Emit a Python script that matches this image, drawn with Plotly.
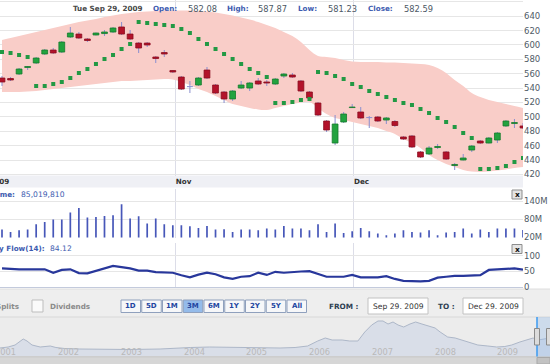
import plotly.graph_objects as go

W, H = 550, 364
FONT = "DejaVu Sans"

# ---------------- data ----------------
opens = [554.0, 553.3, 559.6, 568.6, 574.9, 587.4, 592.9, 590.1, 611.0, 615.1,
         608.2, 613.8, 615.8, 617.9, 624.9, 615.1, 602.6, 602.6, 583.2, 589.4,
         564.4, 555.4, 542.1, 544.3, 565.1, 544.3, 534.6, 524.9, 540.1, 540.1,
         549.9, 548.5, 545.7, 556.8, 558.2, 549.9, 534.6, 519.3, 494.3, 463.7,
         492.9, 513.0, 506.8, 499.1, 499.9, 495.7, 493.6, 472.1, 473.5, 451.3,
         448.5, 457.5, 451.3, 432.5, 440.1, 454.0, 466.5, 463.7, 467.9, 487.4,
         490.8, 487.4]
highs = [556.8, 555.4, 567.9, 570.7, 583.2, 594.3, 595.7, 605.4, 624.9, 617.9,
         609.6, 617.2, 620.7, 624.9, 631.8, 620.7, 604.0, 604.0, 584.6, 592.9,
         565.1, 556.8, 549.9, 555.4, 569.3, 545.7, 536.0, 537.4, 549.9, 548.5,
         554.0, 551.3, 554.0, 561.0, 561.0, 551.3, 536.0, 520.7, 495.7, 502.6,
         506.8, 517.9, 513.7, 501.2, 501.2, 499.9, 495.7, 473.5, 474.9, 452.6,
         459.6, 462.4, 452.6, 436.0, 448.5, 461.0, 467.9, 472.1, 479.0, 495.7,
         497.1, 491.5]
lows = [542.9, 549.9, 558.2, 565.1, 573.5, 586.0, 587.4, 588.8, 609.6, 608.2,
        604.0, 613.1, 612.4, 616.5, 613.8, 606.8, 588.8, 597.1, 574.9, 583.2,
        561.0, 537.4, 533.2, 542.9, 552.6, 531.8, 519.3, 522.1, 538.7, 536.0,
        544.3, 542.9, 544.3, 554.0, 554.0, 534.6, 523.5, 501.2, 479.0, 461.0,
        491.5, 512.4, 497.1, 484.6, 492.9, 490.1, 486.0, 467.9, 456.8, 442.9,
        447.1, 455.4, 440.1, 426.3, 439.4, 451.3, 462.4, 463.0, 463.7, 486.0,
        484.6, 483.2]
closes = [548.5, 551.3, 566.5, 570.0, 581.8, 592.9, 588.8, 604.0, 616.5, 609.6,
          606.1, 616.5, 617.9, 623.5, 615.1, 608.2, 595.7, 599.9, 581.1, 587.4,
          562.4, 538.7, 542.1, 554.0, 554.0, 533.2, 524.9, 536.0, 544.3, 547.1,
          545.7, 547.1, 552.6, 559.6, 555.4, 536.0, 526.3, 502.6, 481.8, 490.1,
          504.0, 513.7, 498.5, 499.1, 494.3, 498.5, 488.1, 469.3, 458.2, 444.3,
          456.8, 458.9, 441.5, 433.9, 442.9, 459.6, 463.7, 470.7, 477.6, 494.3,
          492.2, 484.6]
sar = [590.1, 588.8, 586.0, 583.2, 542.9, 542.9, 545.7, 548.5, 554.0, 561.0,
       566.5, 573.5, 580.4, 586.0, 594.3, 601.3, 631.8, 630.4, 629.0, 627.6,
       626.3, 622.1, 616.5, 608.2, 601.3, 594.3, 587.4, 580.4, 573.5, 566.5,
       561.0, 555.4, 519.3, 519.3, 520.7, 523.5, 524.9, 562.4, 561.0, 556.8,
       552.6, 545.7, 541.5, 536.0, 531.8, 527.6, 523.5, 519.3, 516.5, 511.0,
       505.4, 498.5, 492.9, 486.0, 477.6, 470.7, 427.6, 427.6, 429.0, 431.8,
       437.4, 442.9]
bb_upper = [606.8, 609.6, 612.4, 615.1, 617.9, 620.7, 623.5, 626.3, 629.0, 631.8,
            633.9, 636.0, 638.8, 640.8, 642.9, 644.3, 645.7, 646.4, 647.1, 647.8,
            647.8, 647.8, 647.8, 647.1, 646.4, 645.0, 642.9, 640.8, 638.1, 635.3,
            631.8, 627.6, 623.5, 617.9, 612.4, 604.0, 592.9, 584.6, 583.2, 581.8,
            579.0, 576.9, 576.3, 576.3, 576.3, 575.6, 575.6, 574.9, 574.2, 573.5,
            572.1, 567.9, 561.0, 551.3, 542.9, 533.2, 527.6, 523.5, 520.7, 517.9,
            515.1, 512.4]
bb_lower = [534.6, 534.6, 534.6, 535.3, 536.0, 537.4, 538.7, 540.1, 541.5, 542.9,
            544.3, 545.7, 547.1, 548.5, 549.9, 549.9, 550.6, 551.3, 551.9, 552.6,
            551.9, 548.5, 544.3, 538.7, 534.6, 529.0, 523.5, 517.9, 515.1, 512.4,
            510.3, 509.6, 512.4, 515.1, 517.9, 520.0, 520.7, 512.4, 504.0, 498.5,
            495.7, 492.9, 490.1, 487.4, 484.6, 480.4, 476.3, 469.3, 463.7, 456.8,
            447.1, 440.1, 434.6, 430.4, 426.3, 424.2, 423.5, 424.2, 425.6, 427.0,
            429.0, 430.4]
volume_m = [46.7, 38.7, 44.3, 46.7, 64.3, 72.0, 80.0, 80.0, 103.3, 118.7,
            86.7, 88.7, 92.0, 94.3, 131.0, 83.3, 91.0, 66.7, 83.3, 64.3,
            61.0, 61.0, 57.7, 52.0, 58.7, 46.7, 47.7, 38.7, 46.7, 46.7,
            44.3, 50.0, 46.7, 58.7, 50.0, 50.0, 44.3, 64.3, 38.7, 66.7,
            35.3, 41.0, 52.0, 41.0, 33.3, 27.7, 33.3, 44.3, 38.7, 36.7,
            44.3, 27.7, 36.7, 38.7, 50.0, 33.3, 46.7, 38.7, 50.0, 50.0,
            50.0, 45.0]
mfi = [60, 58, 57, 57, 57, 57, 46, 55, 57, 45, 44, 52, 60, 68, 64, 60, 53, 53, 48, 46,
       46, 38, 31, 40, 46, 41, 31, 26, 33, 35, 46, 39, 49, 46, 49, 50, 51, 42, 33, 33,
       33, 39, 31, 31, 31, 35, 26, 20, 18, 18, 20, 30, 33, 36, 36, 38, 38, 55, 57, 58,
       60, 56]
month_tick_pos = [20.34, 41.21]
month_tick_text = ["Nov", "Dec"]
first_month_label = "Oct 2009"
price_ticks = [420, 440, 460, 480, 500, 520, 540, 560, 580, 600, 620, 640, 660]
volume_ticks = [20, 80, 140]
volume_tick_text = ["20M", "80M", "140M"]
mfi_ticks = [0, 50, 100]

nav_years = [2001.24, 2001.37, 2001.48, 2001.56, 2001.61, 2001.67, 2001.75, 2001.88, 2001.96, 2002.04,
             2002.13, 2002.27, 2002.51, 2002.83, 2003.31, 2003.79, 2004.03, 2004.27, 2004.58, 2005.06,
             2005.38, 2005.70, 2005.94, 2006.14, 2006.30, 2006.42, 2006.53, 2006.69, 2006.81, 2006.94,
             2007.05, 2007.16, 2007.26, 2007.34, 2007.42, 2007.50, 2007.58, 2007.67, 2007.77, 2007.86,
             2007.96, 2008.06, 2008.17, 2008.25, 2008.37, 2008.49, 2008.60, 2008.72, 2008.85, 2009.01,
             2009.15, 2009.28, 2009.39, 2009.52, 2009.63, 2009.73, 2009.81, 2009.90, 2010.00]
nav_values = [288, 324, 396, 540, 612, 540, 396, 324, 342, 360,
              306, 270, 252, 234, 234, 252, 288, 306, 324, 306,
              288, 288, 306, 360, 540, 648, 576, 576, 540, 540,
              864, 1116, 1260, 1260, 1152, 1224, 1116, 1044, 1152, 1224,
              1152, 1080, 1008, 864, 684, 648, 576, 504, 396, 360,
              324, 342, 396, 504, 576, 648, 576, 612, 648]
nav_label_years = [2001, 2002, 2003, 2004, 2005, 2006, 2007, 2008, 2009]

header_date = "Tue Sep 29, 2009"
header_labels = ["Open:", "High:", "Low:", "Close:"]
header_values = ["582.08", "587.87", "581.23", "582.59"]
volume_header = ["Volume:", "85,019,810"]
mfi_header = ["Money Flow(14):", "84.12"]
periods = ["1D", "5D", "1M", "3M", "6M", "1Y", "2Y", "5Y", "All"]
selected_period = "3M"
from_text, to_text = "Sep 29. 2009", "Dec 29. 2009"

# ---------------- styling / layout helpers ----------------
GREEN_FILL, GREEN_EDGE = "#22a33f", "#157a2c"
RED_FILL, RED_EDGE = "#b3132b", "#8a0d1f"
WICK = "#8c90cf"
SAR_C = "#229944"
BAND = "#f9cdc8"
VOL_C = "#4757b9"
MFI_C = "#28379b"
GRID = "#e6e6e6"
VGRID = "#dcdde8"
BLUE_LBL = "#3d5bb0"
VAL_C = "#4d5965"
AX_C = "#4f5b66"

PLOT_R = 523.0
STEP = 8.541
X0 = -2.0 / STEP
X1 = X0 + PLOT_R / STEP
PRICE_RANGE = [418.6, 662.4]


def px(x):
    return x / W


def py(y):
    return 1 - y / H


def dom(top, bottom):
    return [py(bottom), py(top)]


idx = list(range(len(opens)))

fig = go.Figure()

# Bollinger band (base price axis)
fig.add_trace(go.Scatter(x=idx, y=bb_lower, mode="lines", line=dict(width=0, shape="spline"),
                         hoverinfo="skip", showlegend=False, xaxis="x", yaxis="y"))
fig.add_trace(go.Scatter(x=idx, y=bb_upper, mode="lines", line=dict(width=0, shape="spline"),
                         fill="tonexty", fillcolor=BAND, hoverinfo="skip", showlegend=False,
                         xaxis="x", yaxis="y"))

# wicks (thin bars, on an overlaying price axis so they sit above the band)
fig.add_trace(go.Bar(x=idx, y=[h - l for h, l in zip(highs, lows)], base=lows, width=0.12,
                     marker=dict(color=WICK, line=dict(width=0)),
                     hoverinfo="skip", showlegend=False, xaxis="x", yaxis="y5"))

# candle bodies
fills, edges = [], []
for o, c in zip(opens, closes):
    if c > o:
        fills.append(GREEN_FILL); edges.append(GREEN_EDGE)
    elif c < o:
        fills.append(RED_FILL); edges.append(RED_EDGE)
    else:
        fills.append(WICK); edges.append(WICK)
fig.add_trace(go.Bar(x=idx, y=[abs(c - o) for o, c in zip(opens, closes)],
                     base=[min(o, c) for o, c in zip(opens, closes)], width=0.68,
                     marker=dict(color=fills, line=dict(color=edges, width=0.8)),
                     hoverinfo="skip", showlegend=False, xaxis="x", yaxis="y5"))

# parabolic SAR
fig.add_trace(go.Scatter(x=idx, y=sar, mode="markers",
                         marker=dict(symbol="square", size=4, color=SAR_C, line=dict(width=0)),
                         hoverinfo="skip", showlegend=False, xaxis="x", yaxis="y5"))

# volume
fig.add_trace(go.Bar(x=idx, y=volume_m, width=0.2, marker=dict(color=VOL_C, line=dict(width=0)),
                     hoverinfo="skip", showlegend=False, xaxis="x2", yaxis="y2"))

# money flow
fig.add_trace(go.Scatter(x=idx, y=mfi, mode="lines", line=dict(color=MFI_C, width=2.2),
                         hoverinfo="skip", showlegend=False, xaxis="x3", yaxis="y3"))

# navigator
fig.add_trace(go.Scatter(x=nav_years, y=nav_values, mode="lines", fill="tozeroy",
                         fillcolor="#d9dee8", line=dict(color="#adb7c8", width=1),
                         hoverinfo="skip", showlegend=False, xaxis="x4", yaxis="y4"))

xcommon = dict(range=[X0, X1], domain=[0, px(PLOT_R)], tickvals=month_tick_pos,
               showgrid=True, gridcolor=VGRID, gridwidth=1, zeroline=False, showline=False,
               ticks="", automargin=False, fixedrange=True)
ycommon = dict(side="right", showgrid=True, gridcolor=GRID, gridwidth=1, zeroline=False,
               showline=False, ticks="", automargin=False, fixedrange=True,
               tickfont=dict(family=FONT, size=8.5, color=AX_C))

layout = dict(
    width=W, height=H, margin=dict(l=0, r=0, t=0, b=0),
    paper_bgcolor="white", plot_bgcolor="white", showlegend=False,
    font=dict(family=FONT), barmode="overlay",
    xaxis=dict(xcommon, anchor="y", ticktext=month_tick_text, showticklabels=True,
               ticklabelposition="outside right", ticklabelstandoff=0,
               tickfont=dict(family=FONT, size=7.2, color="#333", weight="bold")),
    yaxis=dict(ycommon, anchor="x", domain=dom(0, 175.5), range=PRICE_RANGE,
               tickvals=price_ticks),
    yaxis5=dict(overlaying="y", anchor="x", range=PRICE_RANGE, visible=False,
                showgrid=False, zeroline=False, fixedrange=True),
    xaxis2=dict(xcommon, anchor="y2", matches="x", showticklabels=False),
    yaxis2=dict(ycommon, anchor="x2", domain=dom(189, 237.5), range=[20, 181.7],
                tickvals=volume_ticks, ticktext=volume_tick_text),
    xaxis3=dict(xcommon, anchor="y3", matches="x", showticklabels=False),
    yaxis3=dict(ycommon, anchor="x3", domain=dom(243, 288), range=[-3.2, 141.9],
                tickvals=mfi_ticks, zeroline=True, zerolinecolor="#c3cadc", zerolinewidth=1),
    xaxis4=dict(anchor="y4", domain=[0, 1], range=[2001.24, 2010.0], showgrid=False,
                zeroline=False, showticklabels=False, ticks="", automargin=False, fixedrange=True),
    yaxis4=dict(anchor="x4", domain=dom(317, 356), range=[0, 1404], showgrid=False,
                zeroline=False, showticklabels=False, ticks="", automargin=False, fixedrange=True),
)

shapes = []
ann = []


def rect(x0, y0, x1, y1, fill, line=None, lw=1, layer="below"):
    shapes.append(dict(type="rect", xref="paper", yref="paper", x0=px(x0), x1=px(x1),
                       y0=py(y1), y1=py(y0), fillcolor=fill, layer=layer,
                       line=dict(color=line or fill, width=lw if line else 0)))


def hline(x0, x1, y, color, lw=1, layer="below"):
    shapes.append(dict(type="line", xref="paper", yref="paper", x0=px(x0), x1=px(x1),
                       y0=py(y), y1=py(y), line=dict(color=color, width=lw), layer=layer))


def vline(x, y0, y1, color, lw=1, layer="above"):
    shapes.append(dict(type="line", xref="paper", yref="paper", x0=px(x), x1=px(x),
                       y0=py(y0), y1=py(y1), line=dict(color=color, width=lw), layer=layer))


def text(x, y, s, size, color, bold=False, xanchor="left", xref="paper"):
    ann.append(dict(x=px(x) if xref == "paper" else x, y=py(y), xref=xref, yref="paper",
                    text="<b>%s</b>" % s if bold else s, showarrow=False, xanchor=xanchor,
                    yanchor="middle", borderpad=0,
                    font=dict(family=FONT, size=size, color=color)))


# date band under the price panel
rect(0, 175.5, PLOT_R, 187.5, "#eff0f5")
text(9.5, 181.5, first_month_label, 7.2, "#333", bold=True, xanchor="right")

# panel headers
text(72, 8.5, header_date, 7.2, "#474747", bold=True)
hx_lab = [152, 226, 297, 367]
hx_val = [187, 257, 327, 403]
for lab, val, xl, xv in zip(header_labels, header_values, hx_lab, hx_val):
    text(xl, 8.5, lab, 7.2, BLUE_LBL, bold=True)
    text(xv, 8.5, val, 8.3, VAL_C)
text(15.5, 194, volume_header[0], 7.2, BLUE_LBL, bold=True, xanchor="right")
text(20, 194, volume_header[1], 7.6, BLUE_LBL)
text(45.5, 248, mfi_header[0], 7.2, BLUE_LBL, bold=True, xanchor="right")
text(49, 248, mfi_header[1], 7.6, BLUE_LBL)

# close buttons
for yb in (190, 244.5):
    rect(512, yb, 522, yb + 9, "#e4e4e4", line="#8d8d8d", lw=1, layer="above")
    text(517, yb + 4.5, "x", 7.5, "#111", bold=True, xanchor="center")

# toolbar
rect(0, 289, W, 317, "#eeeeee")
hline(0, W, 289, "#dedede")
text(19.5, 306, "Splits", 7.2, "#8a8a8a", bold=True, xanchor="right")
rect(32, 300, 43, 312, "#fafafa", line="#bdbdbd", layer="above")
text(49, 306, "Dividends", 7.2, "#8a8a8a", bold=True)
bx = 121.0
for p in periods:
    sel = p == selected_period
    rect(bx, 300, bx + 19.5, 312.5, "#94bbea" if sel else "#f6f7f9",
         line="#8fa0bd", lw=1, layer="above")
    text(bx + 9.75, 306.3, p, 7.0, "#2244a0", bold=True, xanchor="center")
    bx += 20.75
text(328, 306, "FROM :", 7.3, "#2d3e52", bold=True)
rect(368, 298, 428, 314, "white", line="#c2c2c2", layer="above")
text(398, 306.3, from_text, 7.6, "#333", xanchor="center")
text(437, 306, "TO :", 7.3, "#2d3e52", bold=True)
rect(463, 298, 523, 314, "white", line="#c2c2c2", layer="above")
text(493, 306.3, to_text, 7.6, "#333", xanchor="center")

# navigator
rect(0, 317, W, 356.5, "#ececec")
hline(0, W, 317, "#d8d8d8")
for yr in nav_label_years:
    text(yr + 0.33, 352, str(yr), 8.3, "#b9b9b9", xanchor="center", xref="x4")
rect(537, 317, W, 356.5, "rgba(150,190,235,0.35)", layer="above")
vline(537, 317, 356.5, "#3a9af0", lw=1.5)
rect(534.5, 328.5, 539.5, 345, "#dcdcdc", line="#8a8a8a", layer="above")
rect(546.5, 328.5, 551.5, 345, "#dcdcdc", line="#8a8a8a", layer="above")

# scrollbar
rect(0, 356.5, W, H, "#d6d6d6")
hline(0, W, 356.8, "#c4c4c4")
rect(537, 357.5, W, H, "#c2c2c2", line="#a8a8a8", layer="above")

layout["shapes"] = shapes
layout["annotations"] = ann
fig.update_layout(**layout)

fig.write_html("out.html", config={"displayModeBar": False, "staticPlot": True},
               post_script="document.body.style.margin='0';document.body.style.padding='0';")
